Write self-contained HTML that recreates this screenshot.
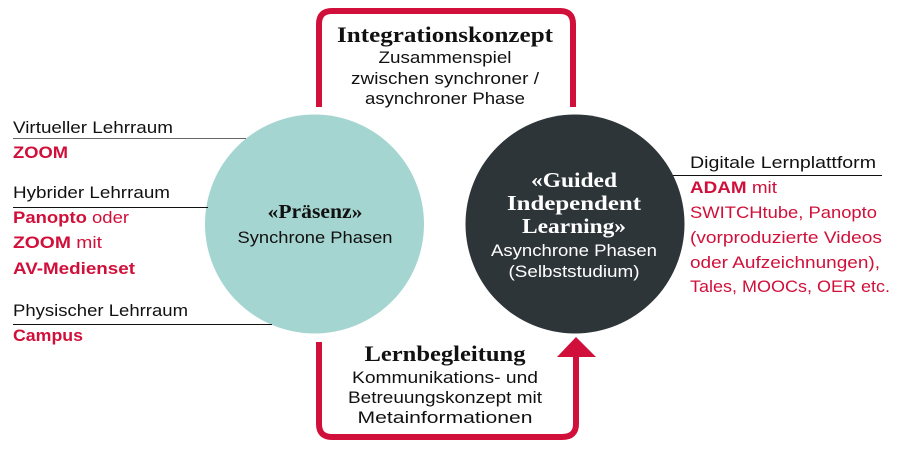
<!DOCTYPE html>
<html><head><meta charset="utf-8"><style>
html,body{margin:0;padding:0;background:#fff;width:900px;height:450px;overflow:hidden}
svg{display:block}
.s{font-family:"Liberation Sans",sans-serif;font-size:17px;fill:#111}
.r{fill:#d0103a}
.b{font-weight:bold}
.h{font-family:"Liberation Serif",serif;font-weight:bold;fill:#111}
</style></head><body>
<svg width="900" height="450" viewBox="0 0 900 450">
<circle cx="314.5" cy="224" r="109.5" fill="#a5d5d0"/>
<circle cx="575" cy="224" r="109.5" fill="#2e3539"/>
<path d="M319 107 V24 Q319 11 332 11 H560 Q573 11 573 24 V107" fill="none" stroke="#d0103a" stroke-width="6"/>
<path d="M319 342 V424 Q319 437 332 437 H562 Q576 437 576 424 V355" fill="none" stroke="#d0103a" stroke-width="6"/>
<polygon points="557,357 596,357 576,337" fill="#d0103a"/>
<line x1="13" y1="138.5" x2="246" y2="138.5" stroke="#666" stroke-width="1"/>
<line x1="13" y1="207.5" x2="208" y2="207.5" stroke="#111" stroke-width="1"/>
<line x1="13" y1="324.5" x2="272" y2="324.5" stroke="#111" stroke-width="1"/>
<line x1="673" y1="175.5" x2="882" y2="175.5" stroke="#111" stroke-width="1"/>

<text class="s" x="13" y="133" textLength="160" lengthAdjust="spacingAndGlyphs">Virtueller Lehrraum</text>
<text class="s r b" x="13" y="158" textLength="55" lengthAdjust="spacingAndGlyphs">ZOOM</text>
<text class="s" x="13" y="198" textLength="157" lengthAdjust="spacingAndGlyphs">Hybrider Lehrraum</text>
<text class="s r" x="13" y="223" textLength="116" lengthAdjust="spacingAndGlyphs"><tspan class="b">Panopto</tspan> oder</text>
<text class="s r" x="13" y="248" textLength="89" lengthAdjust="spacingAndGlyphs"><tspan class="b">ZOOM</tspan> mit</text>
<text class="s r b" x="13" y="274" textLength="122" lengthAdjust="spacingAndGlyphs">AV-Medienset</text>
<text class="s" x="13" y="316" textLength="175" lengthAdjust="spacingAndGlyphs">Physischer Lehrraum</text>
<text class="s r b" x="13" y="341" textLength="70" lengthAdjust="spacingAndGlyphs">Campus</text>

<text class="s" x="690" y="168" textLength="186" lengthAdjust="spacingAndGlyphs">Digitale Lernplattform</text>
<text class="s r" x="690" y="193" textLength="87" lengthAdjust="spacingAndGlyphs"><tspan class="b">ADAM</tspan> mit</text>
<text class="s r" x="690" y="218" textLength="187" lengthAdjust="spacingAndGlyphs">SWITCHtube, Panopto</text>
<text class="s r" x="690" y="243" textLength="192" lengthAdjust="spacingAndGlyphs">(vorproduzierte Videos</text>
<text class="s r" x="690" y="268" textLength="190" lengthAdjust="spacingAndGlyphs">oder Aufzeichnungen),</text>
<text class="s r" x="690" y="292" textLength="200" lengthAdjust="spacingAndGlyphs">Tales, MOOCs, OER etc.</text>

<text class="h" x="315" y="218" font-size="20" text-anchor="middle" textLength="95" lengthAdjust="spacingAndGlyphs">«Präsenz»</text>
<text class="s" x="315" y="243" text-anchor="middle" textLength="155" lengthAdjust="spacingAndGlyphs">Synchrone Phasen</text>

<text class="h" x="574" y="187" font-size="21" text-anchor="middle" style="fill:#fff" textLength="86" lengthAdjust="spacingAndGlyphs">«Guided</text>
<text class="h" x="574" y="210" font-size="21" text-anchor="middle" style="fill:#fff" textLength="134" lengthAdjust="spacingAndGlyphs">Independent</text>
<text class="h" x="574" y="233" font-size="21" text-anchor="middle" style="fill:#fff" textLength="104" lengthAdjust="spacingAndGlyphs">Learning»</text>
<text class="s" x="574" y="256" text-anchor="middle" style="fill:#fff" textLength="166" lengthAdjust="spacingAndGlyphs">Asynchrone Phasen</text>
<text class="s" x="574" y="277" text-anchor="middle" style="fill:#fff" textLength="131" lengthAdjust="spacingAndGlyphs">(Selbststudium)</text>

<text class="h" x="445" y="42" font-size="22" text-anchor="middle" textLength="216" lengthAdjust="spacingAndGlyphs">Integrationskonzept</text>
<text class="s" x="445" y="63" text-anchor="middle" textLength="133" lengthAdjust="spacingAndGlyphs">Zusammenspiel</text>
<text class="s" x="445" y="84" text-anchor="middle" textLength="188" lengthAdjust="spacingAndGlyphs">zwischen synchroner /</text>
<text class="s" x="445" y="104" text-anchor="middle" textLength="160" lengthAdjust="spacingAndGlyphs">asynchroner Phase</text>

<text class="h" x="445" y="361" font-size="22" text-anchor="middle" textLength="161" lengthAdjust="spacingAndGlyphs">Lernbegleitung</text>
<text class="s" x="445" y="383" text-anchor="middle" textLength="186" lengthAdjust="spacingAndGlyphs">Kommunikations- und</text>
<text class="s" x="445" y="403" text-anchor="middle" textLength="194" lengthAdjust="spacingAndGlyphs">Betreuungskonzept mit</text>
<text class="s" x="445" y="423" text-anchor="middle" textLength="175" lengthAdjust="spacingAndGlyphs">Metainformationen</text>
</svg>
</body></html>
